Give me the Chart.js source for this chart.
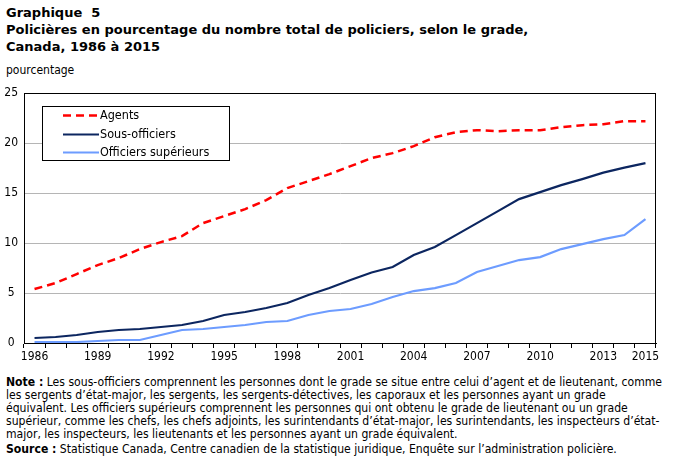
<!DOCTYPE html>
<html>
<head>
<meta charset="utf-8">
<script src="https://cdn.jsdelivr.net/npm/chart.js@4/dist/chart.umd.min.js"></script>
<style>
  body { margin: 0; background: #fff; font-family: "DejaVu Sans Condensed", "DejaVu Sans", sans-serif; font-stretch: condensed; color: #000; }
  #page { position: relative; width: 673px; height: 461px; overflow: hidden; }
  #heading { position: absolute; left: 6px; top: 4px; font-family: "DejaVu Sans", sans-serif; font-stretch: normal; font-weight: bold; font-size: 13px; line-height: 17px; white-space: nowrap; }
  #unit { position: absolute; left: 6px; top: 63px; font-size: 12px; }
  #wrap { position: absolute; left: 0; top: 80px; width: 673px; height: 290px; }
  #notes { position: absolute; left: 6px; top: 376px; font-size: 12.1px; line-height: 13px; white-space: nowrap; }
  #notes p { margin: 0 0 2px 0; }
</style>
</head>
<body>
<div id="page">
  <div id="heading">Graphique&nbsp; 5<br>Policières en pourcentage du nombre total de policiers, selon le grade,<br>Canada, 1986 à 2015</div>
  <div id="unit">pourcentage</div>
  <div id="wrap"><canvas id="chart"></canvas></div>
  <div id="notes">
    <p><b>Note :</b> Les sous-officiers comprennent les personnes dont le grade se situe entre celui d’agent et de lieutenant, comme<br>les sergents d’état-major, les sergents, les sergents-détectives, les caporaux et les personnes ayant un grade<br>équivalent. Les officiers supérieurs comprennent les personnes qui ont obtenu le grade de lieutenant ou un grade<br>supérieur, comme les chefs, les chefs adjoints, les surintendants d’état-major, les surintendants, les inspecteurs d’état-<br>major, les inspecteurs, les lieutenants et les personnes ayant un grade équivalent.</p>
    <p><b>Source :</b> Statistique Canada, Centre canadien de la statistique juridique, Enquête sur l’administration policière.</p>
  </div>
</div>
<script>
const years = ['1986','1987','1988','1989','1990','1991','1992','1993','1994','1995',
               '1996','1997','1998','1999','2000','2001','2002','2003','2004','2005',
               '2006','2007','2008','2009','2010','2011','2012','2013','2014','2015'];
const shownYears = ['1986','1989','1992','1995','1998','2001','2004','2007','2010','2013','2015'];

const agents = [5.4, 6.0, 6.9, 7.8, 8.5, 9.4, 10.1, 10.7, 12.0, 12.7,
                13.4, 14.3, 15.5, 16.2, 16.9, 17.7, 18.5, 19.0, 19.7, 20.6,
                21.1, 21.3, 21.2, 21.3, 21.3, 21.6, 21.8, 21.9, 22.2, 22.2];
const sousOfficiers = [0.5, 0.6, 0.8, 1.1, 1.3, 1.4, 1.6, 1.8, 2.2, 2.8,
                       3.1, 3.5, 4.0, 4.8, 5.5, 6.3, 7.05, 7.6, 8.8, 9.6,
                       10.8, 12.0, 13.2, 14.4, 15.1, 15.8, 16.4, 17.05, 17.55, 18.0];
const officiersSup = [0.1, 0.1, 0.1, 0.2, 0.3, 0.3, 0.8, 1.3, 1.4, 1.6,
                      1.8, 2.1, 2.2, 2.8, 3.2, 3.4, 3.9, 4.6, 5.2, 5.5,
                      6.0, 7.1, 7.7, 8.3, 8.6, 9.4, 9.9, 10.4, 10.8, 12.4];

const legendLabels = ['Agents', 'Sous-officiers', 'Officiers supérieurs'];
const FONT = '"DejaVu Sans Condensed", "DejaVu Sans", sans-serif';

// draws the outer frame of the plot area and the boxed legend
const framePlugin = {
    id: 'frameAndLegend',
    afterDraw(chart) {
        const ctx = chart.ctx;
        const a = chart.chartArea;
        ctx.save();
        ctx.strokeStyle = '#000';
        ctx.lineWidth = 1;
        ctx.strokeRect(Math.round(a.left) + 0.5, Math.round(a.top) + 0.5,
                       Math.round(a.right - a.left) - 1, Math.round(a.bottom - a.top));

        // legend box
        const bx = a.left + 18, by = a.top + 13, bw = 187, bh = 54;
        ctx.fillStyle = '#fff';
        ctx.fillRect(bx, by, bw, bh);
        ctx.strokeRect(Math.round(bx) + 0.5, Math.round(by) + 0.5, bw, bh);
        ctx.font = '12.5px ' + FONT;
        ctx.textBaseline = 'middle';
        chart.data.datasets.forEach((ds, i) => {
            const y = Math.round(by + 9 + i * 18.5) + 0.5;
            ctx.beginPath();
            ctx.strokeStyle = ds.borderColor;
            ctx.lineWidth = ds.borderWidth;
            ctx.setLineDash(ds.borderDash || []);
            ctx.moveTo(bx + 21, y);
            ctx.lineTo(bx + 57, y);
            ctx.stroke();
            ctx.setLineDash([]);
            ctx.fillStyle = '#000';
            ctx.fillText(ds.label, bx + 58, y);
        });
        ctx.restore();
    }
};

const ctx = document.getElementById('chart').getContext('2d');
new Chart(ctx, {
    type: 'line',
    data: {
        labels: years,
        datasets: [{
            label: legendLabels[0],
            data: agents,
            borderColor: '#ff0000',
            borderWidth: 2.5,
            borderDash: [8, 5],
            pointRadius: 0,
            tension: 0
        }, {
            label: legendLabels[1],
            data: sousOfficiers,
            borderColor: '#0c2660',
            borderWidth: 2.2,
            pointRadius: 0,
            tension: 0
        }, {
            label: legendLabels[2],
            data: officiersSup,
            borderColor: '#6d9cff',
            borderWidth: 2.2,
            pointRadius: 0,
            tension: 0
        }]
    },
    options: {
        responsive: true,
        maintainAspectRatio: false,
        animation: false,
        layout: { padding: { top: 10, right: 17, left: 0, bottom: 0 } },
        plugins: {
            legend: { display: false },
            tooltip: { enabled: false }
        },
        scales: {
            x: {
                offset: true,
                grid: { offset: true, drawOnChartArea: false, drawTicks: true, tickLength: 5, color: '#000' },
                border: { color: '#000' },
                ticks: {
                    autoSkip: false,
                    maxRotation: 0,
                    padding: 2,
                    color: '#000',
                    font: { family: FONT, size: 12 },
                    callback: function (value) {
                        const lab = this.getLabelForValue(value);
                        return shownYears.includes(lab) ? lab : '';
                    }
                },
                afterFit: s => { s.height = 27; }
            },
            y: {
                min: 0,
                max: 25,
                ticks: {
                    stepSize: 5,
                    padding: 6,
                    crossAlign: 'center',
                    color: '#000',
                    font: { family: FONT, size: 12 }
                },
                grid: { color: '#b5b5b5', drawTicks: false },
                border: { color: '#000' },
                afterFit: s => { s.width = 24; }
            }
        }
    },
    plugins: [framePlugin]
});
</script>
</body>
</html>
